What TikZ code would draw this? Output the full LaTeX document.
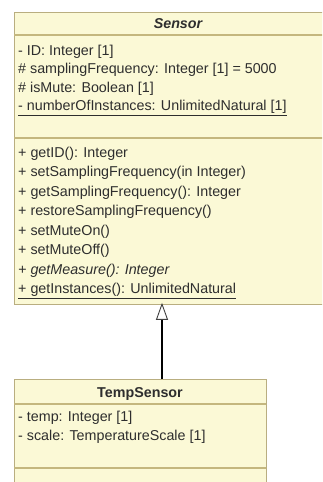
\documentclass[tikz,border=0pt]{standalone}
\usepackage{fontspec}
\setmainfont{Liberation Sans}
\usetikzlibrary{arrows.meta}
\definecolor{boxfill}{HTML}{FBF9D6}
\definecolor{boxline}{HTML}{B9AE80}
\definecolor{divline}{HTML}{C4B77E}
\definecolor{txt}{HTML}{2E2E2E}
\tikzset{
  classbox/.style={draw=boxline, fill=boxfill, line width=1.3pt, rectangle, inner sep=0pt, anchor=north west},
  divider/.style={draw=divline, line width=1.3pt},
  member/.style={anchor=base west, inner sep=0pt, text=txt, font=\fontsize{14.3}{17}\selectfont},
  classtitle/.style={anchor=base, inner sep=0pt, text=txt, font=\fontsize{14.3}{17}\selectfont\bfseries},
  inherit/.style={line width=1.8pt, draw=black, -{Triangle[open, length=17pt, width=12pt, line width=0.9pt, color=black!75]}},
}
\begin{document}
\begin{tikzpicture}[x=1pt, y=-1pt]
\useasboundingbox[fill=white] (0,0) rectangle (322,482);
\clip (0,0) rectangle (322,482);
% Sensor class
\node[classbox, minimum width=328pt, minimum height=292pt] (sensor) at (14,12) {};
\draw[divider] (14,35) -- (342,35);
\draw[divider] (14,138) -- (342,138);
\node[classtitle] (sensorname) at (178,28) {\itshape Sensor};
\node[member] (a1) at (18,55) {- ID: Integer [1]};
\node[member] (a2) at (18,73.5) {\# samplingFrequency: Integer [1] = 5000};
\node[member] (a3) at (18,92) {\# isMute: Boolean [1]};
\node[member] (a4) at (18,110.5) {\underline{- numberOfInstances: UnlimitedNatural [1]}};
\node[member] (m1) at (18,157) {+ getID(): Integer};
\node[member] (m2) at (18,176.5) {+ setSamplingFrequency(in Integer)};
\node[member] (m3) at (18,196) {+ getSamplingFrequency(): Integer};
\node[member] (m4) at (18,215.5) {+ restoreSamplingFrequency()};
\node[member] (m5) at (18,235) {+ setMuteOn()};
\node[member] (m6) at (18,254.5) {+ setMuteOff()};
\node[member] (m7) at (18,274) {\itshape + getMeasure(): Integer};
\node[member] (m8) at (18,293.5) {\underline{+ getInstances(): UnlimitedNatural}};
% TempSensor class
\node[classbox, minimum width=252pt, minimum height=130pt] (temp) at (14,379) {};
\draw[divider] (14,404) -- (266,404);
\draw[divider] (14,468) -- (266,468);
\node[classtitle] (tempname) at (140,397) {TempSensor};
\node[member] (t1) at (18,421) {- temp: Integer [1]};
\node[member] (t2) at (18,440.5) {- scale: TemperatureScale [1]};
% generalization
\coordinate (ax) at (162,0);
\draw[inherit] (temp.north -| ax) -- ([yshift=2.5pt]sensor.south -| ax);
\end{tikzpicture}
\end{document}
